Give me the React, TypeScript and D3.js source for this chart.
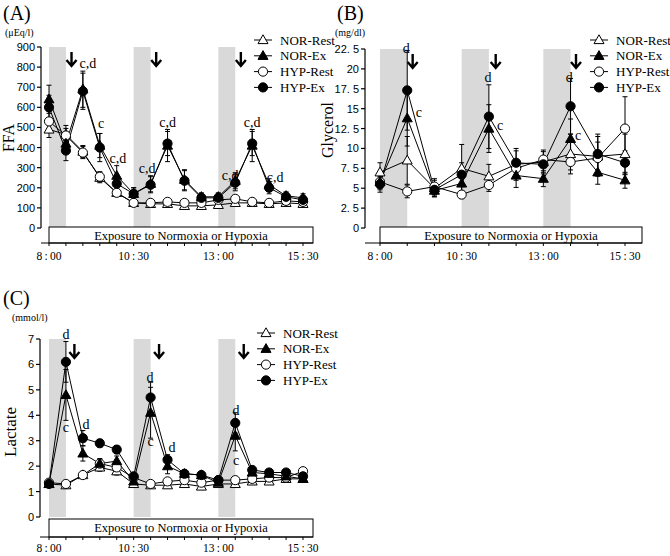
import React from 'react';
import * as d3 from 'd3';

// ---------- shared ----------
const seriesNames = ['NOR-Rest', 'NOR-Ex', 'HYP-Rest', 'HYP-Ex'];
const tickTimeLabels = ['8:00', '10:30', '13:00', '15:30'];
const boxText = 'Exposure to Normoxia or Hypoxia';

// ---------- panel A : FFA ----------
const ffaTimes = ['8:00','8:30','9:00','9:30','10:00','10:30','11:00','11:30','12:00','12:30','13:00','13:30','14:00','14:30','15:00','15:30'];
const ffaNorRest = [490, 465, 380, 250, 175, 125, 120, 120, 110, 110, 115, 125, 125, 120, 125, 120];
const ffaHypRest = [530, 460, 375, 255, 175, 125, 125, 130, 125, 125, 140, 145, 130, 125, 135, 130];
const ffaNorEx = [640, 420, 690, 410, 260, 170, 220, 410, 240, 155, 155, 235, 410, 215, 160, 150];
const ffaHypEx = [600, 385, 680, 400, 220, 170, 215, 420, 235, 150, 150, 225, 420, 200, 155, 140];
const ffaNorRestErr = [40, 30, 30, 25, 15, 10, 10, 10, 10, 10, 10, 10, 10, 10, 10, 10];
const ffaHypRestErr = [50, 50, 30, 25, 15, 10, 10, 10, 10, 10, 10, 10, 10, 10, 10, 10];
const ffaNorExErr = [70, 40, 90, 60, 50, 30, 40, 80, 50, 20, 20, 40, 80, 30, 20, 20];
const ffaHypExErr = [60, 50, 90, 70, 40, 30, 40, 60, 50, 20, 20, 40, 60, 30, 20, 20];
const ffaTicks = [0, 100, 200, 300, 400, 500, 600, 700, 800, 900];
const ffaBands = [[0, 1], [5, 6], [10, 11]];
const ffaArrows = [1.33, 6.33, 11.33];
const ffaNotes = [
  { t: 'c,d', i: 2.3, v: 796 }, { t: 'c', i: 3.07, v: 497 }, { t: 'c,d', i: 4.07, v: 323 },
  { t: 'c,d', i: 5.8, v: 273 }, { t: 'c,d', i: 7.0, v: 502 }, { t: 'c,d', i: 10.7, v: 239 },
  { t: 'c,d', i: 12.0, v: 502 }, { t: 'c,d', i: 13.35, v: 229 },
];

// ---------- panel B : Glycerol ----------
const glyTimes = ['8:00','8:30','9:30','10:30','11:00','12:00','13:00','13:30','14:30','15:30'];
const glyNorRest = [7.0, 8.5, 5.0, 7.5, 6.5, 8.0, 8.3, 9.3, 9.0, 9.3];
const glyHypRest = [5.8, 4.6, 5.2, 4.2, 5.4, 7.5, 8.6, 8.3, 8.8, 12.5];
const glyNorEx = [5.8, 13.8, 4.7, 5.6, 12.5, 6.6, 6.2, 11.2, 7.0, 6.0];
const glyHypEx = [5.5, 17.3, 4.8, 6.7, 14.0, 8.2, 8.0, 15.3, 9.3, 8.2];
const glyNorRestErr = [1.2, 3, 1, 3, 1.5, 2, 1.5, 2.5, 2.5, 2.5];
const glyHypRestErr = [0.8, 0.8, 1, 0.5, 0.8, 1, 1, 1, 2, 4];
const glyNorExErr = [1, 3.5, 0.8, 1.5, 3, 1.5, 1, 2.5, 1.5, 1];
const glyHypExErr = [1, 5, 0.8, 1.5, 4, 1.5, 1, 3.5, 2.5, 1.5];
const glyTicks = [0, 2.5, 5, 7.5, 10, 12.5, 15, 17.5, 20, 22.5];
const glyTickLabels = ['0', '2. 5', '5', '7. 5', '10', '12. 5', '15', '17. 5', '20', '22. 5'];
const glyBands = [[0, 1], [3, 4], [6, 7]];
const glyArrows = [1.2, 4.25, 7.2];
const glyNotes = [
  { t: 'd', i: 0.96, v: 22.0 }, { t: 'c', i: 1.43, v: 13.9 }, { t: 'd', i: 3.97, v: 18.3 },
  { t: 'c', i: 4.41, v: 12.3 }, { t: 'd', i: 6.95, v: 18.3 }, { t: 'c', i: 7.28, v: 11.1 },
];

// ---------- panel C : Lactate ----------
const lacTimes = ffaTimes;
const lacNorRest = [1.3, 1.25, 1.65, 1.95, 1.8, 1.3, 1.25, 1.25, 1.3, 1.2, 1.3, 1.3, 1.4, 1.4, 1.5, 1.5];
const lacHypRest = [1.35, 1.3, 1.65, 2.1, 1.95, 1.55, 1.3, 1.4, 1.45, 1.35, 1.45, 1.45, 1.5, 1.55, 1.55, 1.8];
const lacNorEx = [1.3, 4.8, 2.5, 2.1, 2.2, 1.4, 4.1, 2.0, 1.7, 1.65, 1.35, 3.2, 1.75, 1.7, 1.6, 1.5];
const lacHypEx = [1.3, 6.1, 3.1, 2.9, 2.65, 1.6, 4.7, 2.25, 1.7, 1.65, 1.45, 3.7, 1.85, 1.75, 1.75, 1.6];
const lacNorRestErr = [0.1, 0.1, 0.1, 0.15, 0.15, 0.1, 0.1, 0.1, 0.1, 0.1, 0.1, 0.1, 0.1, 0.1, 0.1, 0.1];
const lacHypRestErr = [0.1, 0.1, 0.1, 0.15, 0.15, 0.1, 0.1, 0.1, 0.1, 0.1, 0.1, 0.1, 0.1, 0.1, 0.1, 0.1];
const lacNorExErr = [0.1, 1.0, 0.3, 0.2, 0.2, 0.1, 1.0, 0.3, 0.15, 0.1, 0.1, 0.6, 0.15, 0.1, 0.1, 0.1];
const lacHypExErr = [0.1, 0.8, 0.3, 0.15, 0.15, 0.1, 0.6, 0.2, 0.1, 0.1, 0.1, 0.4, 0.1, 0.1, 0.1, 0.1];
const lacTicks = [0, 1, 2, 3, 4, 5, 6, 7];
const lacBands = [[0, 1], [5, 6], [10, 11]];
const lacArrows = [1.5, 6.5, 11.5];
const lacNotes = [
  { t: 'd', i: 1.0, v: 7.0 }, { t: 'c', i: 1.0, v: 3.34 }, { t: 'd', i: 2.18, v: 3.46 },
  { t: 'd', i: 5.97, v: 5.31 }, { t: 'c', i: 6.0, v: 2.79 }, { t: 'd', i: 7.27, v: 2.56 },
  { t: 'd', i: 11.05, v: 4.01 }, { t: 'c', i: 11.05, v: 2.04 },
];

const SERIF = '"Liberation Serif", "Times New Roman", serif';
const SANS = '"Liberation Sans", Arial, sans-serif';

type Note = { t: string; i: number; v: number };
type PanelProps = {
  letter: string; unit: string; title: string;
  times: string[]; series: number[][]; errs: number[][];
  ticks: number[]; tickLabels: string[]; yMax: number;
  bands: number[][]; arrows: number[]; notes: Note[];
  xRange: [number, number]; yRange: [number, number];
  axisX: number; boxRight: number; axisLineY: number; boxTop: number; xLabelOffset: number;
  legendX: number; legendY: number; titleX: number; titleY: number; titleSize: number;
  letterXY: [number, number]; unitXY: [number, number]; tickFont: string;
};

const styles = [
  { shape: 'tri', fill: '#fff' },
  { shape: 'tri', fill: '#000' },
  { shape: 'circ', fill: '#fff' },
  { shape: 'circ', fill: '#000' },
];

function Marker({ x, y, k }: { x: number; y: number; k: number }) {
  const s = styles[k];
  if (s.shape === 'tri') {
    const p = `M${x},${y - 5.2}L${x + 5},${y + 3.6}L${x - 5},${y + 3.6}Z`;
    return <path d={p} fill={s.fill} stroke="#000" strokeWidth={1} />;
  }
  return <circle cx={x} cy={y} r={4.6} fill={s.fill} stroke="#000" strokeWidth={1} />;
}

function Panel(p: PanelProps) {
  const x = d3.scaleLinear().domain([0, p.times.length - 1]).range(p.xRange);
  const y = d3.scaleLinear().domain([0, p.yMax]).range(p.yRange);
  const line = d3.line<number>().x((_, i) => x(i)).y((d) => y(d));
  const tickIdx = tickTimeLabels.map((t) => p.times.indexOf(t));
  const order = [0, 2, 1, 3];
  return (
    <g>
      {p.bands.map((b, i) => (
        <rect key={i} x={x(b[0])} y={y(p.yMax)} width={x(b[1]) - x(b[0])} height={y(0) - y(p.yMax)} fill="#d9d9d9" />
      ))}
      {/* exposure box */}
      <rect x={x(0)} y={p.boxTop} width={p.boxRight - x(0)} height={p.axisLineY - p.boxTop} fill="#fff" stroke="#000" strokeWidth={1} />
      <text x={(x(0) + p.boxRight) / 2} y={p.boxTop + 12.5} textAnchor="middle" fontFamily={SERIF} fontSize={12.5}>{boxText}</text>
      {/* y axis */}
      <line x1={p.axisX} x2={p.axisX} y1={y(p.yMax)} y2={y(0)} stroke="#000" strokeWidth={1.2} />
      {p.ticks.map((t, i) => (
        <g key={i}>
          <line x1={p.axisX - 4} x2={p.axisX} y1={y(t)} y2={y(t)} stroke="#000" strokeWidth={1.2} />
          <text x={p.axisX - 6} y={y(t) + 4} textAnchor="end" fontFamily={p.tickFont} fontSize={11}>{p.tickLabels[i]}</text>
        </g>
      ))}
      {/* x axis */}
      <line x1={p.axisX} x2={p.boxRight} y1={p.axisLineY} y2={p.axisLineY} stroke="#000" strokeWidth={1.2} />
      {p.times.map((_, i) => (
        <line key={i} x1={x(i)} x2={x(i)} y1={p.axisLineY} y2={p.axisLineY + 3} stroke="#000" strokeWidth={1} />
      ))}
      {tickIdx.map((ti, i) => (
        <text key={i} x={x(ti)} y={p.axisLineY + p.xLabelOffset} textAnchor="middle" fontFamily={SERIF} fontSize={11.5}>{tickTimeLabels[i].replace(':', '\u2009:\u2009')}</text>
      ))}
      {/* lines */}
      {order.map((k) => (
        <path key={k} d={line(p.series[k]) || ''} fill="none" stroke="#000" strokeWidth={1} />
      ))}
      {/* error bars */}
      {order.map((k) => p.series[k].map((v, i) => {
        const e = p.errs[k][i];
        return (
          <g key={`${k}-${i}`} stroke="#000" strokeWidth={1}>
            <line x1={x(i)} x2={x(i)} y1={y(v + e)} y2={y(Math.max(0, v - e))} />
            <line x1={x(i) - 2.5} x2={x(i) + 2.5} y1={y(v + e)} y2={y(v + e)} />
            <line x1={x(i) - 2.5} x2={x(i) + 2.5} y1={y(Math.max(0, v - e))} y2={y(Math.max(0, v - e))} />
          </g>
        );
      }))}
      {/* markers */}
      {order.map((k) => p.series[k].map((v, i) => <Marker key={`${k}m${i}`} x={x(i)} y={y(v)} k={k} />))}
      {/* arrows */}
      {p.arrows.map((a, i) => (
        <path key={i} d={`M${x(a)},${y(p.yMax) + 5}V${y(p.yMax) + 19}M${x(a) - 5},${y(p.yMax) + 13}L${x(a)},${y(p.yMax) + 19}L${x(a) + 5},${y(p.yMax) + 13}`} fill="none" stroke="#000" strokeWidth={2.4} />
      ))}
      {/* notes */}
      {p.notes.map((n, i) => (
        <text key={i} x={x(n.i)} y={y(n.v)} textAnchor="middle" fontFamily={SERIF} fontSize={14}>{n.t}</text>
      ))}
      {/* legend */}
      {seriesNames.map((s, k) => (
        <g key={s}>
          <line x1={p.legendX - 9} x2={p.legendX + 9} y1={p.legendY + k * 15.8} y2={p.legendY + k * 15.8} stroke="#000" strokeWidth={1} />
          <Marker x={p.legendX} y={p.legendY + k * 15.8} k={k} />
          <text x={p.legendX + 17} y={p.legendY + k * 15.8 + 4.5} fontFamily={SERIF} fontSize={13}>{s}</text>
        </g>
      ))}
      {/* labels */}
      <text x={p.letterXY[0]} y={p.letterXY[1]} fontFamily={SERIF} fontSize={20}>{p.letter}</text>
      <text x={p.unitXY[0]} y={p.unitXY[1]} fontFamily={SERIF} fontSize={10}>{p.unit}</text>
      <text transform={`translate(${p.titleX},${p.titleY}) rotate(-90)`} textAnchor="middle" fontFamily={SERIF} fontSize={p.titleSize}>{p.title}</text>
    </g>
  );
}

export default function App() {
  return (
    <svg width={670} height={556} style={{ position: 'absolute', left: 0, top: 0, background: '#fff' }}>
      <rect width={670} height={556} fill="#fff" />
      <Panel
        letter="(A)" unit="(μEq/l)" title="FFA" times={ffaTimes}
        series={[ffaNorRest, ffaNorEx, ffaHypRest, ffaHypEx]}
        errs={[ffaNorRestErr, ffaNorExErr, ffaHypRestErr, ffaHypExErr]}
        ticks={ffaTicks} tickLabels={ffaTicks.map(String)} yMax={900}
        bands={ffaBands} arrows={ffaArrows} notes={ffaNotes}
        xRange={[49, 303]} yRange={[228, 47]} axisX={41} boxRight={313} axisLineY={243} boxTop={227} xLabelOffset={17}
        legendX={263} legendY={40} titleX={14} titleY={138} titleSize={16}
        letterXY={[3, 20]} unitXY={[5, 36]} tickFont={SANS}
      />
      <Panel
        letter="(B)" unit="(mg/dl)" title="Glycerol" times={glyTimes}
        series={[glyNorRest, glyNorEx, glyHypRest, glyHypEx]}
        errs={[glyNorRestErr, glyNorExErr, glyHypRestErr, glyHypExErr]}
        ticks={glyTicks} tickLabels={glyTickLabels} yMax={22.5}
        bands={glyBands} arrows={glyArrows} notes={glyNotes}
        xRange={[380, 625]} yRange={[228, 49]} axisX={365} boxRight={642} axisLineY={243} boxTop={227} xLabelOffset={17}
        legendX={599} legendY={40} titleX={333} titleY={130} titleSize={16}
        letterXY={[337, 20]} unitXY={[335, 36]} tickFont={SANS}
      />
      <Panel
        letter="(C)" unit="(mmol/l)" title="Lactate" times={lacTimes}
        series={[lacNorRest, lacNorEx, lacHypRest, lacHypEx]}
        errs={[lacNorRestErr, lacNorExErr, lacHypRestErr, lacHypExErr]}
        ticks={lacTicks} tickLabels={lacTicks.map(String)} yMax={7}
        bands={lacBands} arrows={lacArrows} notes={lacNotes}
        xRange={[49, 303]} yRange={[517, 339]} axisX={40} boxRight={313} axisLineY={537} boxTop={519} xLabelOffset={15}
        legendX={266} legendY={333} titleX={16} titleY={432} titleSize={17}
        letterXY={[3, 305]} unitXY={[12, 321]} tickFont={SANS}
      />
    </svg>
  );
}
